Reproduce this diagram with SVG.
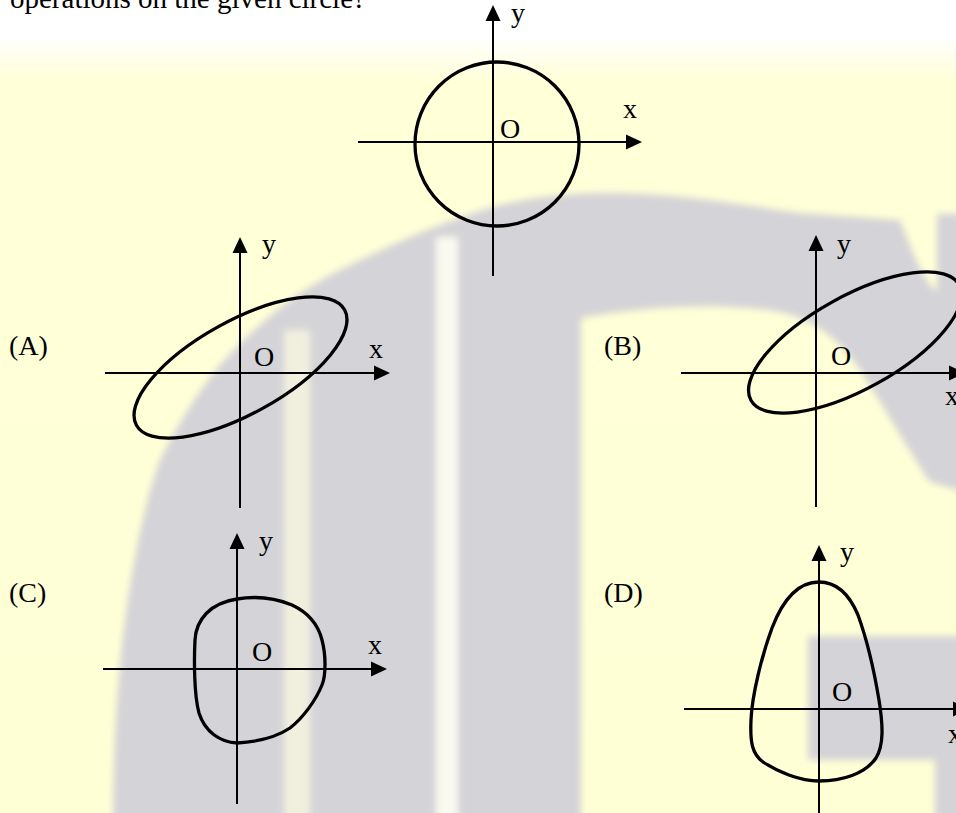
<svg xmlns="http://www.w3.org/2000/svg" width="956" height="813" viewBox="0 0 956 813">
<defs>
<style>
.t{font-family:"Liberation Serif","Times New Roman",serif;font-size:28px;fill:#000}
.q{font-family:"Liberation Serif","Times New Roman",serif;font-size:29px;fill:#000}
.ax{stroke:#000;stroke-width:2;fill:none;marker-end:url(#arr)}
.cv{stroke:#000;stroke-width:3.3;fill:none}
.wm{fill:#D4D3D7}
</style>
<linearGradient id="bg" x1="0" y1="0" x2="0" y2="813" gradientUnits="userSpaceOnUse">
<stop offset="0" stop-color="#FFFFFF"/>
<stop offset="0.045" stop-color="#FFFFFF"/>
<stop offset="0.1" stop-color="#FFFFD8"/>
<stop offset="1" stop-color="#FFFFD6"/>
</linearGradient>
<filter id="soft" x="-5%" y="-5%" width="110%" height="110%">
<feGaussianBlur stdDeviation="3.5"/>
</filter>
<marker id="arr" markerUnits="userSpaceOnUse" markerWidth="16" markerHeight="16" viewBox="0 0 16 15" refX="8" refY="7.5" orient="auto">
<path d="M0,0 L16,7.5 L0,15 Z" fill="#000"/>
</marker>
</defs>

<rect x="0" y="0" width="956" height="813" fill="url(#bg)"/>

<g id="watermark" filter="url(#soft)">
<path class="wm" d="M113,830 L113,813 C114,740 117,680 125,620 C133,560 145,500 160,460 C175,430 195,395 220,365 C260,320 300,290 340,270 C390,245 440,222 500,205 C540,196 570,193 610,193 C680,193 740,205 800,213 L900,220 C912,250 922,280 937,292 L937,214 L975,214 L975,495 L930,482 C905,445 880,400 860,370 C840,340 815,320 780,312 C730,303 650,305 581,318 L581,830 Z"/>
<rect x="284" y="330" width="26" height="500" fill="#F1F0DF"/>
<rect x="436" y="237" width="22" height="593" fill="#FAFAF1"/>
<rect class="wm" x="808" y="636" width="170" height="124"/>
<rect class="wm" x="935" y="760" width="40" height="70"/>
</g>

<text class="q" x="10" y="8">operations on the given circle?</text>

<g id="fig-original">
<line class="ax" x1="358" y1="142" x2="634" y2="142"/>
<line class="ax" x1="493" y1="276" x2="493" y2="13"/>
<circle class="cv" cx="497" cy="144" r="82"/>
<text class="t" x="511" y="22">y</text>
<text class="t" x="623" y="118">x</text>
<text class="t" x="500" y="138">O</text>
</g>

<g id="fig-A">
<text class="t" x="9" y="355">(A)</text>
<line class="ax" x1="105" y1="373" x2="382" y2="373"/>
<line class="ax" x1="240" y1="508" x2="240" y2="245"/>
<ellipse class="cv" cx="240.5" cy="367.5" rx="119" ry="46.5" transform="rotate(-29 240.5 367.5)"/>
<text class="t" x="262" y="253">y</text>
<text class="t" x="369" y="358">x</text>
<text class="t" x="254" y="366">O</text>
</g>

<g id="fig-B">
<text class="t" x="604" y="355">(B)</text>
<line class="ax" x1="681" y1="373" x2="957" y2="373"/>
<line class="ax" x1="816" y1="507" x2="816" y2="243"/>
<ellipse class="cv" cx="855" cy="342.5" rx="119" ry="46.5" transform="rotate(-29 855 342.5)"/>
<text class="t" x="837" y="253">y</text>
<text class="t" x="945" y="405">x</text>
<text class="t" x="831" y="365">O</text>
</g>

<g id="fig-C">
<text class="t" x="9" y="602">(C)</text>
<line class="ax" x1="103" y1="669" x2="379" y2="669"/>
<line class="ax" x1="237" y1="804" x2="237" y2="541"/>
<path class="cv" d="M237,599 C255,596 275,598 292,605 C307,612 318,624 322,640 C326,655 326,675 322,685 C316,700 303,718 290,728 C275,738 255,742 237,743 C220,742 205,732 199,713 C194,695 194,660 195,640 C196,620 210,603 237,599 Z"/>
<text class="t" x="259" y="550">y</text>
<text class="t" x="368" y="654">x</text>
<text class="t" x="252" y="661">O</text>
</g>

<g id="fig-D">
<text class="t" x="604" y="602">(D)</text>
<line class="ax" x1="684" y1="709" x2="961" y2="709"/>
<line class="ax" x1="819" y1="820" x2="819" y2="553"/>
<path class="cv" d="M819,582 C838,582 850,596 858,615 C866,637 874,670 879,700 C883,725 884,745 876,758 C865,774 842,781 819,781 C800,781 778,772 763,762 C752,754 750,742 751,720 C752,695 762,655 772,628 C782,602 797,582 819,582 Z"/>
<text class="t" x="840" y="561">y</text>
<text class="t" x="948" y="743">x</text>
<text class="t" x="832" y="701">O</text>
</g>
</svg>
